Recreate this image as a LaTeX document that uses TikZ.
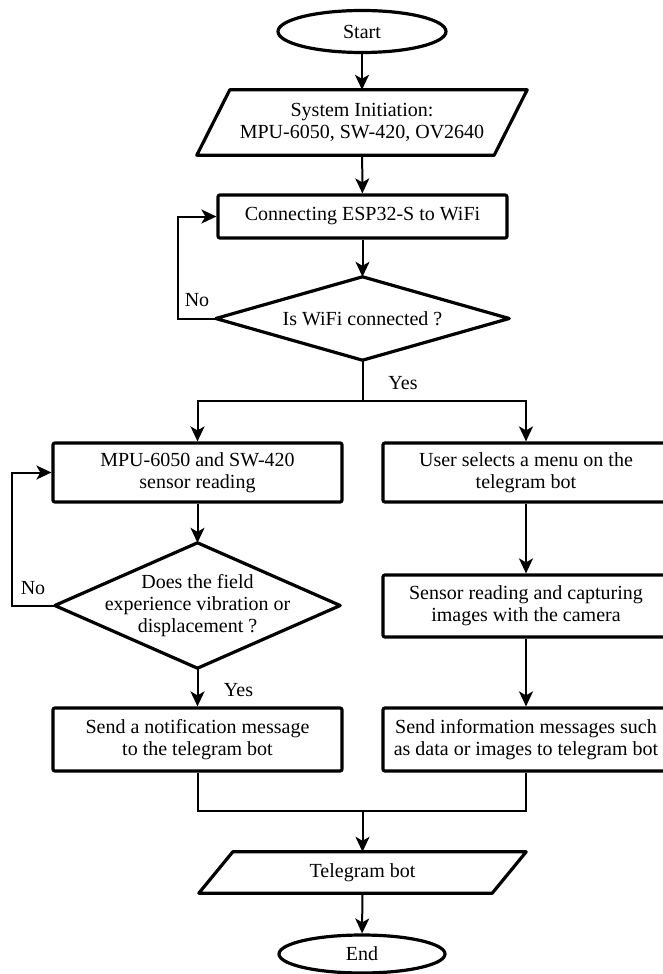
\documentclass[tikz,border=0pt]{standalone}
\usepackage{fontspec}
\setmainfont{Liberation Serif}
\usetikzlibrary{arrows.meta,calc,shapes.geometric}
\begin{document}
\begin{tikzpicture}[x=1pt,y=-1pt,
  every node/.style={font=\fontsize{20}{21.7}\selectfont, inner sep=0pt, align=center},
  proc/.style={draw, line width=3.2pt, rounded corners=2pt},
  term/.style={draw, ellipse, line width=3.2pt},
  ghost/.style={rectangle},
  shp/.style={line width=3.2pt, line join=round},
  conn/.style={line width=2pt, -{Stealth[length=15pt,width=14pt,inset=4pt]}},
  plain/.style={line width=2pt},
  lbl/.style={font=\fontsize{20}{21.7}\selectfont}]
\useasboundingbox (0,0) rectangle (663,974);
\clip (0,0) rectangle (663,974);

% nodes
\node[term, minimum width=168pt, minimum height=42pt] (start) at (362,31.5) {Start};
\node[ghost, minimum width=330pt, minimum height=65pt] (init) at (362,122.5) {System Initiation:\\MPU-6050, SW-420, OV2640};
\draw[shp] (init.south west) -- ([xshift=-33pt]init.south east) -- (init.north east) -- ([xshift=33pt]init.north west) -- cycle;
\node[proc, minimum width=289pt, minimum height=43pt] (connect) at (362.5,216.5) {Connecting ESP32-S to WiFi};
\node[ghost, minimum width=293pt, minimum height=83pt] (wifi) at (362.5,318.5) {Is WiFi connected ?};
\draw[shp] (wifi.north) -- (wifi.east) -- (wifi.south) -- (wifi.west) -- cycle;

\node[proc, minimum width=289pt, minimum height=59pt] (sens) at (197.5,472.5) {MPU-6050 and SW-420\\sensor reading};
\node[proc, minimum width=286pt, minimum height=59pt] (user) at (526,472.5) {User selects a menu on the\\telegram bot};
\node[ghost, minimum width=285pt, minimum height=125pt] (q2) at (197.5,605.5) {Does the field\\experience vibration or\\displacement ?};
\draw[shp] (q2.north) -- (q2.east) -- (q2.south) -- (q2.west) -- cycle;
\node[proc, minimum width=286pt, minimum height=62pt] (cap) at (526,606) {Sensor reading and capturing\\images with the camera};
\node[proc, minimum width=289pt, minimum height=63pt] (notif) at (197.5,739.5) {Send a notification message\\to the telegram bot};
\node[proc, minimum width=286pt, minimum height=63pt] (info) at (526,739.5) {Send information messages such\\as data or images to telegram bot};

\node[ghost, minimum width=327pt, minimum height=41pt] (tg) at (362.5,872.5) {Telegram bot};
\draw[shp] (tg.south west) -- ([xshift=-34pt]tg.south east) -- (tg.north east) -- ([xshift=34pt]tg.north west) -- cycle;
\node[term, minimum width=166pt, minimum height=38pt] (end) at (362,954) {End};

% connectors
\draw[conn] (start) -- (init);
\draw[conn] (init) -- (connect);
\draw[conn] (connect) -- (wifi);
\draw[conn] (wifi.west) -- ++(-38,0) |- (connect.west);
\node[lbl] (no1) at (197,300) {No};

\coordinate (split) at (362.5,401);
\draw[plain] (wifi.south) -- (split);
\draw[conn] (split) -| (sens.north);
\draw[conn] (split) -| (user.north);
\node[lbl] (yes1) at (403,383) {Yes};

\draw[conn] (sens) -- (q2);
\draw[conn] (q2.west) -- ++(-43,0) |- (sens.west);
\node[lbl] (no2) at (33,588) {No};
\draw[conn] (q2) -- (notif);
\node[lbl] (yes2) at (238.5,690) {Yes};

\draw[conn] (user) -- (cap);
\draw[conn] (cap) -- (info);

\coordinate (merge) at (362.5,811);
\draw[plain] (notif.south) |- (merge);
\draw[plain] (info.south) |- (merge);
\draw[conn] (merge) -- (tg);
\draw[conn] (tg) -- (end);
\end{tikzpicture}
\end{document}
